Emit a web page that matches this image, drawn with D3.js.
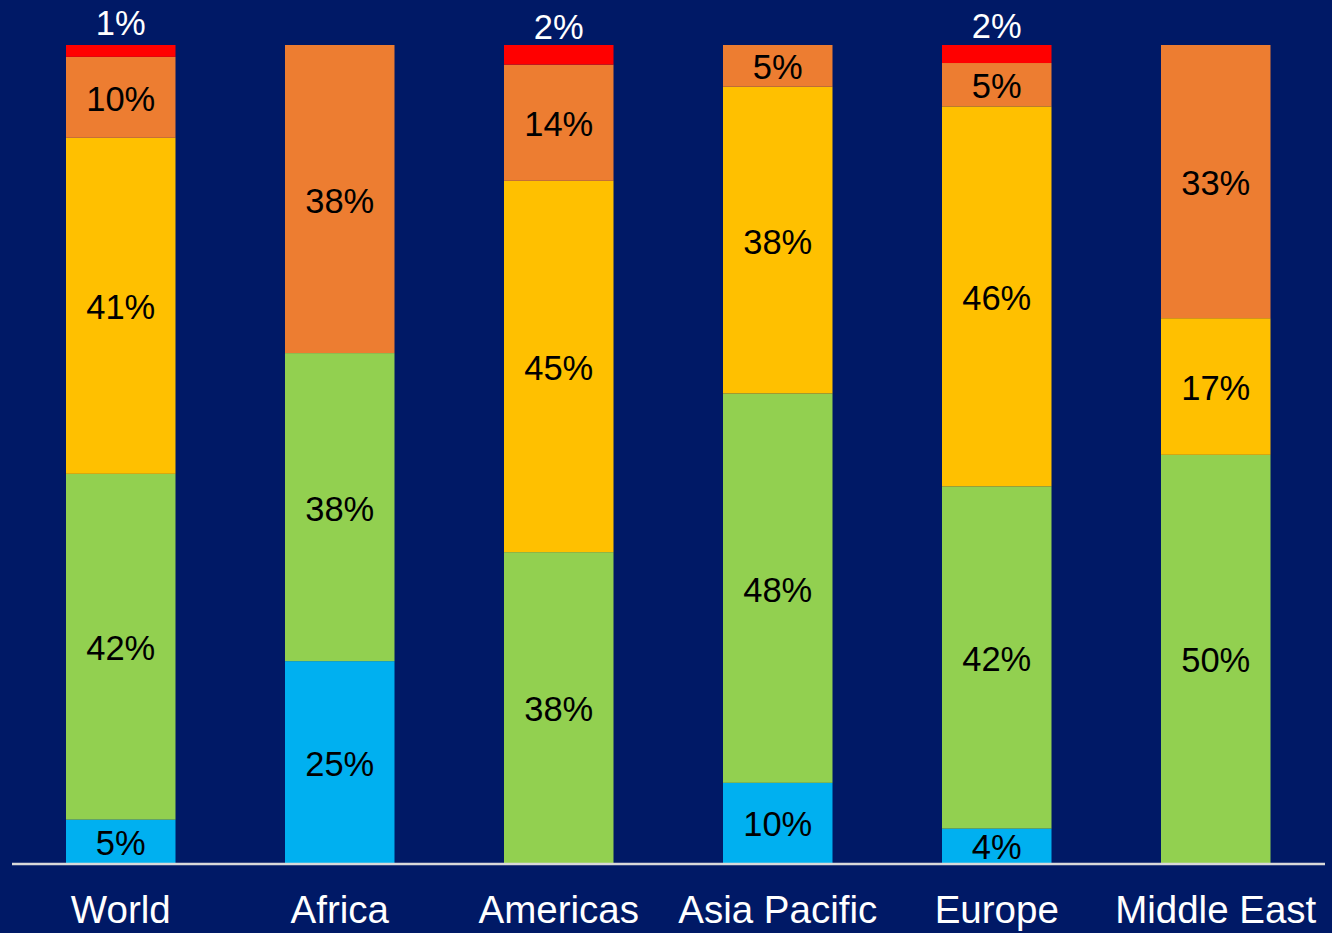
<!DOCTYPE html>
<html>
<head>
<meta charset="utf-8">
<script src="https://cdn.jsdelivr.net/npm/d3@7"></script>
<style>
  html, body { margin: 0; padding: 0; background: #001966; }
  svg { display: block; }
  text { font-family: "Liberation Sans", Arial, sans-serif; }
</style>
</head>
<body>
<svg id="chart" width="1332" height="933"></svg>
<script>
const categories = ["World", "Africa", "Americas", "Asia Pacific", "Europe", "Middle East"];
const seriesNames = ["blue", "green", "yellow", "orange", "red"];
// shares in percent (labels show them rounded)
const blueValues   = [5.3, 24.7, 0, 9.8, 4.2, 0];
const greenValues  = [42.3, 37.7, 38.0, 47.6, 41.8, 49.9];
const yellowValues = [41.1, 0, 45.4, 37.5, 46.4, 16.7];
const orangeValues = [9.9, 37.7, 14.2, 5.1, 5.3, 33.4];
const redValues    = [1.45, 0, 2.4, 0, 2.2, 0];
const seriesColors = ["#00b0f0", "#92d050", "#ffc000", "#ed7d31", "#ff0000"];

const W = 1332, H = 933;
const svg = d3.select("#chart");
svg.append("rect").attr("width", W).attr("height", H).attr("fill", "#001966");

const table = categories.map((c, i) => ({
  category: c,
  blue: blueValues[i], green: greenValues[i], yellow: yellowValues[i],
  orange: orangeValues[i], red: redValues[i]
}));

const stack = d3.stack().keys(seriesNames).offset(d3.stackOffsetExpand);
const series = stack(table);

const x = d3.scaleBand().domain(categories).range([11.25, 1325.25]).paddingInner(0.5).paddingOuter(0.25);
const y = d3.scaleLinear().domain([0, 1]).range([863, 45]);
const color = d3.scaleOrdinal().domain(seriesNames).range(seriesColors);
const fmt = v => Math.round(v) + "%";

const groups = svg.append("g").selectAll("g").data(series).join("g")
  .attr("fill", d => color(d.key));

groups.selectAll("rect").data(d => d.map(p => ({p, key: d.key})))
  .join("rect")
  .attr("x", d => x(d.p.data.category))
  .attr("width", x.bandwidth())
  .attr("y", d => y(d.p[1]))
  .attr("height", d => Math.max(0, y(d.p[0]) - y(d.p[1])));

// labels
const labels = svg.append("g");
series.forEach(s => {
  s.forEach(p => {
    const v = p.data[s.key];
    if (!v) return;
    const cx = x(p.data.category) + x.bandwidth() / 2;
    const cy = (y(p[0]) + y(p[1])) / 2;
    const isTop = s.key === "red";
    labels.append("text")
      .attr("x", cx)
      .attr("y", isTop ? cy - 28 : cy + 1.5)
      .attr("dy", "0.35em")
      .attr("text-anchor", "middle")
      .attr("font-size", 34.5)
      .attr("fill", isTop ? "#ffffff" : "#000000")
      .text(fmt(v));
  });
});

// axis baseline
const xAxis = d3.axisBottom(x).tickSize(0).tickPadding(0);
const ax = svg.append("g").attr("transform", "translate(0,864)").call(xAxis);
ax.select(".domain").attr("stroke", "#d9d9d9").attr("stroke-width", 2.5)
  .attr("d", "M12,0H1325");
ax.selectAll(".tick text")
  .attr("fill", "#ffffff")
  .attr("font-size", 38.5)
  .attr("font-family", "\"Liberation Sans\", Arial, sans-serif")
  .attr("dy", null)
  .attr("y", 59);
</script>
</body>
</html>
